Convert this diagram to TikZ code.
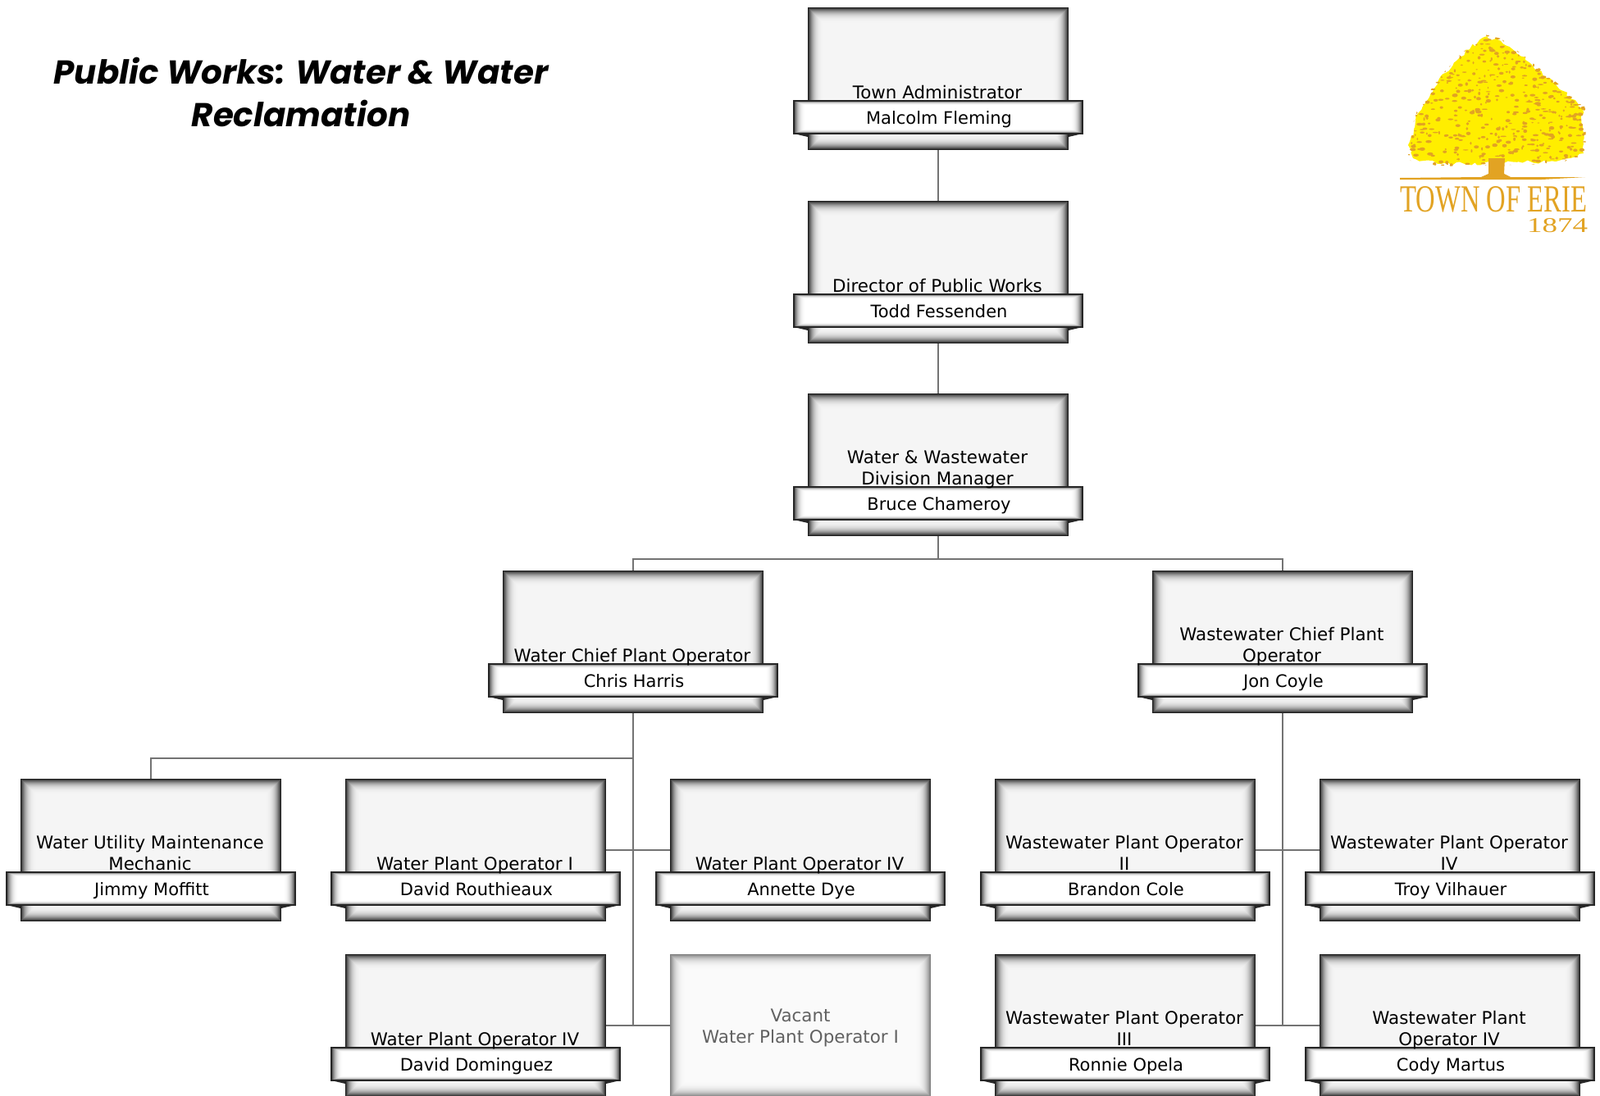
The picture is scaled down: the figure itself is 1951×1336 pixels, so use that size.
\documentclass[tikz,border=0pt]{standalone}
\usepackage{fontspec}
\setmainfont{DejaVu Sans}
\newfontfamily\headfont{Poppins}
\newfontfamily\logofont{Liberation Serif}
\usetikzlibrary{decorations.pathmorphing}

\definecolor{kLink}{gray}{0.45}
\definecolor{kYellow}{RGB}{255,238,0}
\definecolor{kOrange}{RGB}{226,163,35}

\tikzset{
  link/.style={color=kLink,line width=2.6pt},
  boxnode/.style={minimum width=318pt,minimum height=174pt,inner sep=0pt,outer sep=0pt},
  titletext/.style={font=\fontsize{21.4}{26}\selectfont,align=center,inner sep=0pt,anchor=south,text depth=0pt},
  nametext/.style={font=\fontsize{21}{24}\selectfont,inner sep=0pt,anchor=base},
  vacanttext/.style={font=\fontsize{21.4}{26}\selectfont,align=center,inner sep=0pt,text=black!62},
}

% left, top, right, bottom, edge grey, inner grey
\newcommand{\softrect}[6]{
  \foreach \i in {0,...,21}{
    \pgfmathsetmacro\g{#6-(#6-#5)*(1-\i/22)^3.4}
    \definecolor{softc}{gray}{\g}
    \fill[softc] (#1+\i,#2+\i) rectangle (#3-\i,#4-\i);
  }
}

% name, left, top, title, person
\newcommand{\orgbox}[5]{
  \softrect{#2}{#3}{#2+318}{#3+174}{0.12}{0.96}
  \foreach \i in {0,...,15}{
    \pgfmathsetmacro\g{1-0.75*(1-\i/16)^3}
    \definecolor{softc}{gray}{\g}
    \fill[softc] (#2-17+\i,#3+114+0.4*\i) rectangle (#2+335-\i,#3+154-0.4*\i);
  }
  \fill[black!85] (#2-17,#3+154) -- (#2,#3+154) -- (#2,#3+158) -- cycle;
  \fill[black!85] (#2+335,#3+154) -- (#2+318,#3+154) -- (#2+318,#3+158) -- cycle;
  \draw[black!85,line width=2pt] (#2-17,#3+114) rectangle (#2+335,#3+154);
  \node[boxnode] (#1) at (#2+159,#3+87) {};
  \node[titletext] (#1t) at (#2+158,#3+112) {#4};
  \node[nametext] (#1n) at (#2+160,#3+142) {#5};
}

\begin{document}
\begin{tikzpicture}[x=1pt,y=-1pt]
  \useasboundingbox (0,0) rectangle (1951,1336);

  \node[font=\headfont\bfseries\itshape\fontsize{40.4}{52}\selectfont,align=center] (heading) at (367,112)
    {Public Works: Water \& Water\\Reclamation};

  \orgbox{adm}{985}{9}{Town Administrator}{Malcolm Fleming}
  \orgbox{dir}{985}{245}{Director of Public Works}{Todd Fessenden}
  \orgbox{mgr}{985}{480}{Water \& Wastewater\\Division Manager}{Bruce Chameroy}

  \orgbox{wchief}{613}{696}{Water Chief Plant Operator}{Chris Harris}
  \orgbox{wwchief}{1405}{696}{Wastewater Chief Plant\\Operator}{Jon Coyle}

  \orgbox{mech}{25}{950}{Water Utility Maintenance\\Mechanic}{Jimmy Moffitt}
  \orgbox{wopa}{421}{950}{Water Plant Operator I}{David Routhieaux}
  \orgbox{wopb}{817}{950}{Water Plant Operator IV}{Annette Dye}
  \orgbox{wwopa}{1213}{950}{Wastewater Plant Operator\\II}{Brandon Cole}
  \orgbox{wwopb}{1609}{950}{Wastewater Plant Operator\\IV}{Troy Vilhauer}

  \orgbox{wopc}{421}{1164}{Water Plant Operator IV}{David Dominguez}
  \softrect{817}{1164}{1135}{1338}{0.5}{0.98}
  \node[boxnode] (vacant) at (976,1251) {};
  \node[vacanttext] (vacantt) at (976,1254) {Vacant\\Water Plant Operator I};
  \orgbox{wwopc}{1213}{1164}{Wastewater Plant Operator\\III}{Ronnie Opela}
  \orgbox{wwopd}{1609}{1164}{Wastewater Plant\\Operator IV}{Cody Martus}

  \coordinate (split) at (1144,682);
  \coordinate (tap) at (772,925);

  \draw[link] (adm.south) -- (dir.north);
  \draw[link] (dir.south) -- (mgr.north);
  \draw[link] (mgr.south) -- (split);
  \draw[link] (wchief.north) |- (split);
  \draw[link] (wwchief.north) |- (split);

  \draw[link] (wchief.south) -- (wchief.south |- wopc.east);
  \draw[link] (mech.north) |- (tap);
  \draw[link] (wopa.east) -- (wopb.west);
  \draw[link] (wopc.east) -- (vacant.west);

  \draw[link] (wwchief.south) -- (wwchief.south |- wwopc.east);
  \draw[link] (wwopa.east) -- (wwopb.west);
  \draw[link] (wwopc.east) -- (wwopd.west);

  % logo
  \fill[kYellow,decorate,decoration={random steps,segment length=5pt,amplitude=2.5pt}]
    (1717,177) -- (1730,137) -- (1753,100) -- (1780,70) -- (1810,45) -- (1830,50) -- (1860,73)
    -- (1893,100) -- (1930,133) -- (1931,187) -- (1897,197) -- (1757,200) -- (1723,193) -- cycle;
  \begin{scope}
    \clip (1714,180) -- (1728,135) -- (1753,97) -- (1780,67) -- (1810,42) -- (1830,47) -- (1862,71)
      -- (1895,98) -- (1933,131) -- (1934,189) -- (1897,200) -- (1757,203) -- (1720,196) -- cycle;
    \pgfmathsetseed{1874}
    \foreach \k in {1,...,620}{
      \pgfmathsetmacro\px{1712+rnd*224}
      \pgfmathsetmacro\py{42+rnd*162}
      \pgfmathsetmacro\ra{0.8+rnd*3}
      \pgfmathsetmacro\rb{0.6+rnd*1.6}
      \fill[kOrange] (\px,\py) ellipse (\ra pt and \rb pt);
    }
  \end{scope}
  \fill[kOrange] (1815,193) -- (1835,193) -- (1834,212) -- (1842,216) -- (1933,216)
    -- (1880,219) -- (1707,219) -- (1707,217) -- (1806,216) -- (1815,212) -- cycle;
  \node[inner sep=0pt,anchor=north west,text=kOrange,font=\logofont] (logoname) at (1707,227)
    {\resizebox{228pt}{31pt}{TOWN OF ERIE}};
  \node[inner sep=0pt,anchor=north west,text=kOrange,font=\logofont] (logoyear) at (1862,266)
    {\resizebox{74pt}{17pt}{1874}};

\end{tikzpicture}
\end{document}
